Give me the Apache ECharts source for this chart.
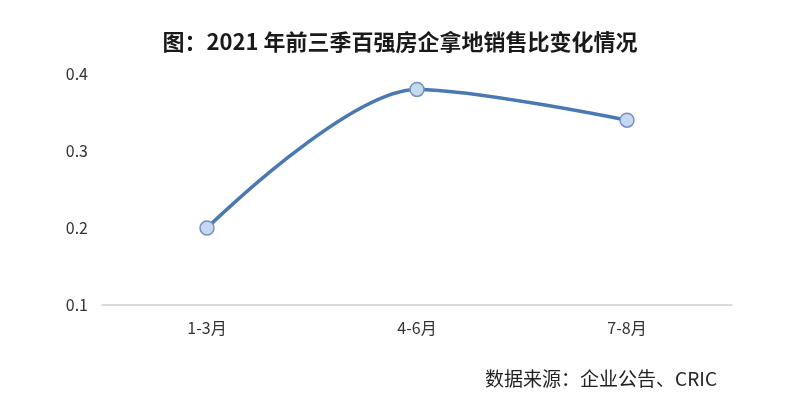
<!DOCTYPE html>
<html><head><meta charset="utf-8">
<script src="https://cdn.jsdelivr.net/npm/echarts@6/dist/echarts.min.js"></script>
<style>html,body{margin:0;padding:0;background:#fff}#c{width:800px;height:400px}</style>
</head><body><div id="c"></div>
<script>
const categories = ['1-3月', '4-6月', '7-8月'];
const values = [0.20, 0.38, 0.34];
const yTicks = [0.1, 0.2, 0.3, 0.4];
const titleText = '图：2021 年前三季百强房企拿地销售比变化情况';
const sourceText = '数据来源：企业公告、CRIC';

const chart = echarts.init(document.getElementById('c'));
chart.setOption({
  backgroundColor: '#fff',
  title: [{
    text: titleText, left: 'center', top: 26,
    textStyle: {fontFamily: 'Noto Sans CJK SC', fontSize: 22, fontWeight: 'bold', color: '#1a1a1a'}
  }, {
    text: sourceText, right: 78, top: 364,
    textStyle: {fontFamily: 'Noto Sans CJK SC', fontSize: 19, fontWeight: 'normal', color: '#222'}
  }],
  grid: {left: 102, right: 68, top: 74, bottom: 95},
  xAxis: {
    type: 'category', data: categories, boundaryGap: true,
    axisLine: {lineStyle: {color: '#d0d0d0', width: 1.5}},
    axisTick: {show: false},
    axisLabel: {fontFamily: 'Noto Sans CJK SC', fontSize: 16, color: '#333', margin: 15}
  },
  yAxis: {
    type: 'value', min: yTicks[0], max: yTicks[yTicks.length - 1], interval: 0.1,
    axisLine: {show: false}, axisTick: {show: false}, splitLine: {show: false},
    axisLabel: {fontFamily: 'Noto Sans CJK SC', fontSize: 16, color: '#333', margin: 14,
      formatter: v => v.toFixed(1)}
  },
  series: [{
    type: 'line', data: values, smooth: 0.3,
    lineStyle: {color: '#4a78b2', width: 3.5},
    symbol: 'circle', symbolSize: 14,
    itemStyle: {color: '#c6d7f0', borderColor: '#7391bf', borderWidth: 1.5}
  }]
});
</script></body></html>
